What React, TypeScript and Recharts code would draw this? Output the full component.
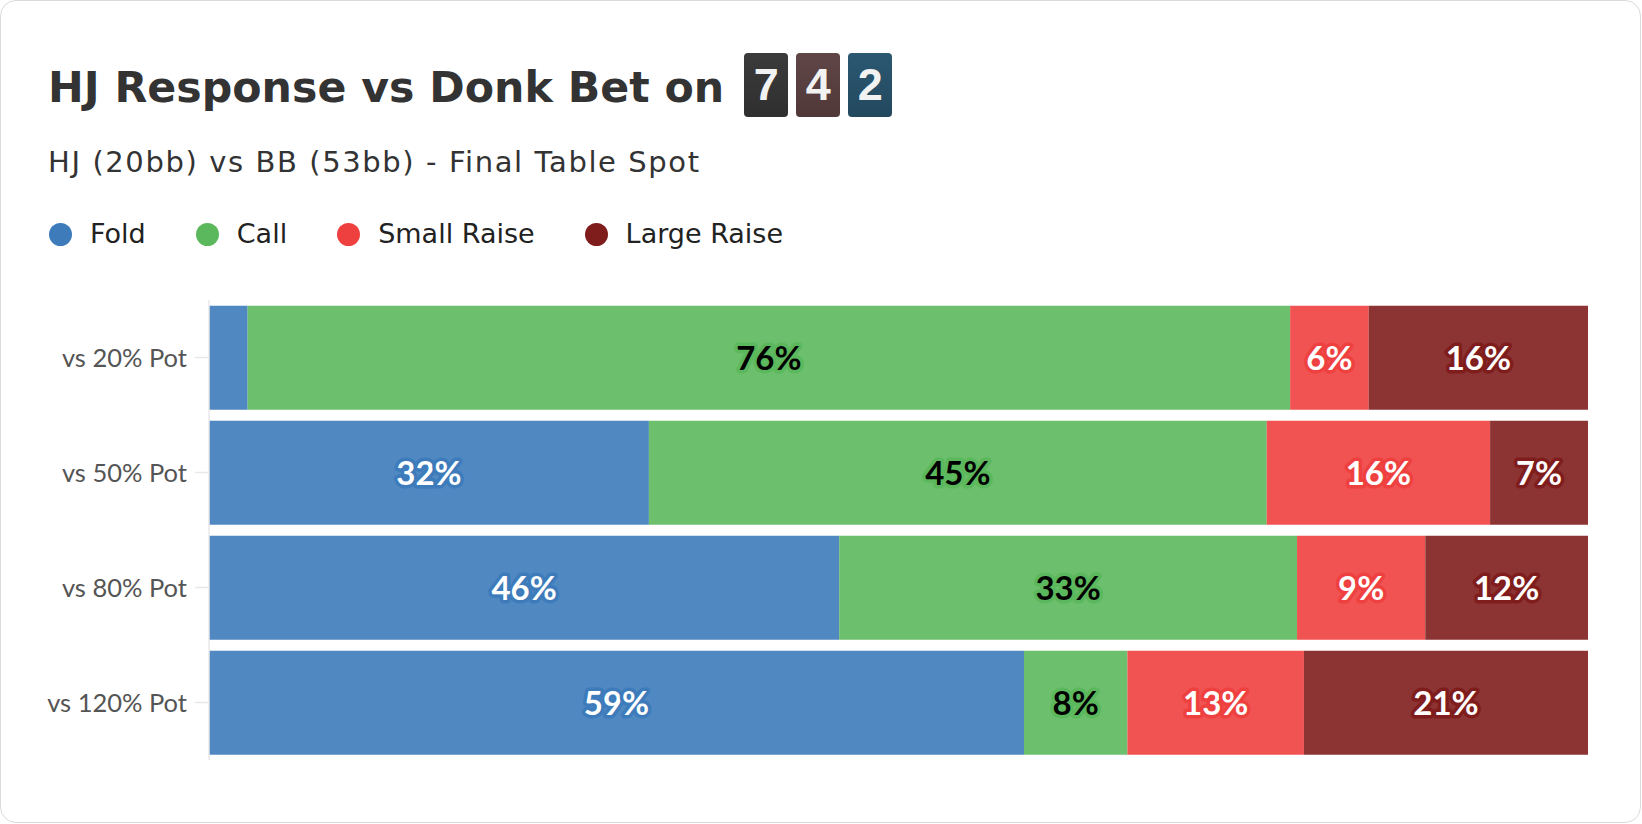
import React from 'react';
import { BarChart, Bar, XAxis, YAxis, LabelList } from 'recharts';

const categories = ['vs 20% Pot', 'vs 50% Pot', 'vs 80% Pot', 'vs 120% Pot'];
const fold = [2.8, 31.9, 45.7, 59.1];
const call = [75.6, 44.8, 33.2, 7.5];
const smallRaise = [5.7, 16.2, 9.3, 12.8];
const largeRaise = [15.9, 7.1, 11.8, 20.6];

const seriesKeys = ['fold', 'call', 'smallRaise', 'largeRaise'];
const seriesNames = ['Fold', 'Call', 'Small Raise', 'Large Raise'];
const seriesColors = ['#3d7bbb', '#5cb85c', '#ef4040', '#7f1d1d'];
const labelTextColors = ['#ffffff', '#000000', '#ffffff', '#ffffff'];

const boardCards = ['7', '4', '2'];
const cardColors = [
  ['#3b3b3b', '#2f2f2f'],
  ['#604646', '#513838'],
  ['#2c5872', '#22485e'],
];

const data = categories.map((name, i) => ({
  name,
  fold: fold[i],
  call: call[i],
  smallRaise: smallRaise[i],
  largeRaise: largeRaise[i],
}));

const headFont = '"DejaVu Sans", Inter, sans-serif';
const labelFont = 'Lato, "Noto Sans", sans-serif';

function makeLabel(idx: number) {
  return (props: any) => {
    const { x, y, width, height, value } = props;
    if (value == null || value < 5) return null;
    return (
      <text
        x={Number(x) + Number(width) / 2}
        y={Number(y) + Number(height) / 2 - 1}
        textAnchor="middle"
        dominantBaseline="central"
        fill={labelTextColors[idx]}
        stroke={seriesColors[idx]}
        strokeWidth={7}
        strokeLinejoin="round"
        paintOrder="stroke"
        fontFamily={labelFont}
        fontWeight={700}
        fontSize={33}
      >
        {Math.round(value)}%
      </text>
    );
  };
}

export default function App() {
  return (
    <div
      style={{
        position: 'absolute',
        left: 0,
        top: 0,
        width: 1641,
        height: 823,
        border: '1.5px solid #dadada',
        borderRadius: 16,
        boxSizing: 'border-box',
        background: '#fff',
        overflow: 'hidden',
      }}
    >
      <div
        style={{
          position: 'absolute',
          left: 47,
          top: 52,
          height: 64,
          display: 'flex',
          alignItems: 'center',
          fontFamily: headFont,
          fontWeight: 700,
          fontSize: 42.7,
          color: '#333',
        }}
      >
        <span style={{ lineHeight: '64px', position: 'relative', top: 2 }}>
          HJ Response vs Donk Bet on
        </span>
        <span style={{ display: 'flex', gap: 8, marginLeft: 20 }}>
          {boardCards.map((c, i) => (
            <span
              key={i}
              style={{
                width: 44,
                height: 64,
                borderRadius: 4,
                background: `linear-gradient(180deg, ${cardColors[i][0]}, ${cardColors[i][1]})`,
                color: '#f2f2f2',
                fontFamily: '"Liberation Sans", Arial, sans-serif',
                fontWeight: 700,
                fontSize: 45,
                display: 'flex',
                alignItems: 'center',
                justifyContent: 'center',
              }}
            >
              {c}
            </span>
          ))}
        </span>
      </div>
      <div
        style={{
          position: 'absolute',
          left: 47,
          top: 143,
          fontFamily: headFont,
          fontWeight: 400,
          fontSize: 29,
          letterSpacing: 1.6,
          lineHeight: '36px',
          color: '#333',
          whiteSpace: 'nowrap',
        }}
      >
        HJ (20bb) vs BB (53bb) - Final Table Spot
      </div>
      <div
        style={{
          position: 'absolute',
          left: 48,
          top: 215,
          display: 'flex',
          gap: 50,
          fontFamily: headFont,
          fontSize: 27,
          lineHeight: '36px',
          color: '#222',
        }}
      >
        {seriesNames.map((n, i) => (
          <div key={n} style={{ display: 'flex', alignItems: 'center' }}>
            <span
              style={{
                width: 23,
                height: 23,
                borderRadius: '50%',
                background: seriesColors[i],
                marginRight: 18,
                display: 'inline-block',
              }}
            />
            <span>{n}</span>
          </div>
        ))}
      </div>
      <div style={{ position: 'absolute', left: 19, top: 289 }}>
        <BarChart
          width={1601}
          height={480}
          data={data}
          layout="vertical"
          barCategoryGap="5%"
          margin={{ top: 10, right: 33, bottom: 10, left: 0 }}
        >
          <XAxis type="number" domain={[0, 100]} hide />
          <YAxis
            type="category"
            dataKey="name"
            width={189}
            tickSize={14}
            tickMargin={8}
            axisLine={{ stroke: '#e8e8e8', strokeWidth: 1.5 }}
            tickLine={{ stroke: '#e8e8e8', strokeWidth: 1.5 }}
            tick={{ fill: '#555', fontSize: 25.5, fontFamily: labelFont }}
          />
          {seriesKeys.map((k, i) => (
            <Bar
              key={k}
              dataKey={k}
              name={seriesNames[i]}
              stackId="a"
              fill={seriesColors[i]}
              fillOpacity={0.9}
              isAnimationActive={false}
            >
              <LabelList dataKey={k} content={makeLabel(i)} />
            </Bar>
          ))}
        </BarChart>
      </div>
    </div>
  );
}
